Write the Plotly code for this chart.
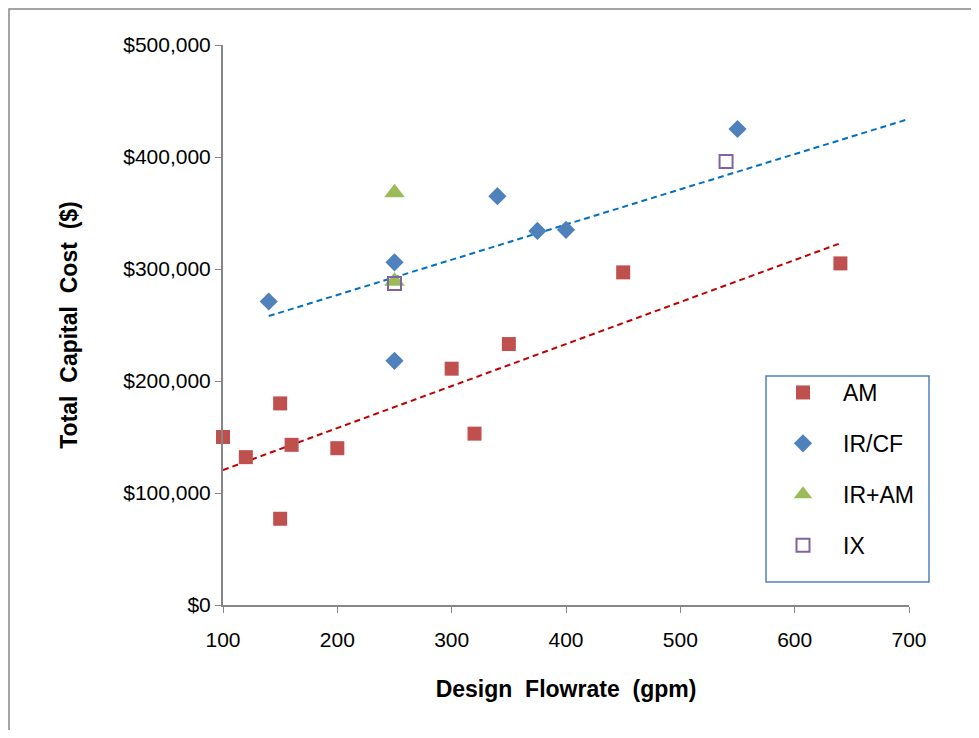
import plotly.graph_objects as go

# ---- data ----
am_x = [100, 120, 150, 150, 160, 200, 300, 320, 350, 450, 640]
am_y = [150000, 132000, 180000, 77000, 143000, 140000, 211000, 153000, 233000, 297000, 305000]

ircf_x = [140, 250, 250, 340, 375, 400, 550]
ircf_y = [271000, 306000, 218000, 365000, 334000, 335000, 425000]

iram_x = [250, 250]
iram_y = [368000, 289000]

ix_x = [250, 540]
ix_y = [287000, 396000]

trend_blue_x = [140, 700]
trend_blue_y = [258000, 434000]

trend_red_x = [100, 640]
trend_red_y = [120500, 323000]

x_ticks = [100, 200, 300, 400, 500, 600, 700]
y_ticks = [0, 100000, 200000, 300000, 400000, 500000]
y_tick_labels = ["${:,}".format(v) for v in y_ticks]

FONT = "Liberation Sans, Arial, sans-serif"

fig = go.Figure()

fig.add_trace(go.Scatter(x=trend_blue_x, y=trend_blue_y, mode="lines", showlegend=False,
                         line=dict(color="#0070C0", width=2, dash="6px,4px"), hoverinfo="skip"))
fig.add_trace(go.Scatter(x=trend_red_x, y=trend_red_y, mode="lines", showlegend=False,
                         line=dict(color="#C00000", width=2, dash="6px,4px"), hoverinfo="skip"))

fig.add_trace(go.Scatter(x=am_x, y=am_y, mode="markers", name="AM", legendgroup="a",
                         cliponaxis=False,
                         marker=dict(symbol="square", size=14, color="#C0504D")))
fig.add_trace(go.Scatter(x=ircf_x, y=ircf_y, mode="markers", name="IR/CF", legendgroup="b",
                         cliponaxis=False,
                         marker=dict(symbol="diamond", size=14, color="#4F81BD")))
fig.add_trace(go.Scatter(x=iram_x, y=iram_y, mode="markers", name="IR+AM", legendgroup="c",
                         cliponaxis=False,
                         marker=dict(symbol="triangle-up", size=18, color="#9BBB59")))
fig.add_trace(go.Scatter(x=ix_x, y=ix_y, mode="markers", name="IX", legendgroup="d",
                         cliponaxis=False,
                         marker=dict(symbol="square-open", size=13, color="#8064A2",
                                     line=dict(width=2, color="#8064A2"))))

OFF = 8  # page body margin
W, H = 979 - 2 * OFF, 738 - 2 * OFF
L, T = 223 - OFF, 45 - OFF
pw, ph = 686, 560
R, B = W - L - pw, H - T - ph

def px(xpage):
    return (xpage - OFF - L) / pw

def py(ypage):
    return (T + ph - (ypage - OFF)) / ph

fig.update_layout(
    width=W, height=H,
    margin=dict(l=L, r=R, t=T, b=B, pad=0),
    paper_bgcolor="white", plot_bgcolor="white",
    font=dict(family=FONT, size=21, color="black"),
    showlegend=True,
    legend=dict(x=px(763), y=py(371), xanchor="left", yanchor="top",
                bgcolor="rgba(0,0,0,0)", borderwidth=0,
                itemwidth=70, tracegroupgap=18, traceorder="grouped",
                font=dict(family=FONT, size=23, color="black")),
    xaxis=dict(range=[100, 700], tickvals=x_ticks, showgrid=False, zeroline=False,
               showline=True, linecolor="#868686", linewidth=2,
               ticks="outside", ticklen=6, tickwidth=1, tickcolor="#868686",
               ticklabelstandoff=9,
               tickfont=dict(family=FONT, size=21, color="black"),
               title=dict(text="<b>Design  Flowrate  (gpm)</b>", standoff=31,
                          font=dict(family=FONT, size=23, color="black"))),
    yaxis=dict(range=[0, 500000], tickvals=y_ticks, ticktext=y_tick_labels,
               showgrid=False, zeroline=False,
               showline=True, linecolor="#868686", linewidth=2,
               ticks="outside", ticklen=6, tickwidth=1, tickcolor="#868686",
               tickfont=dict(family=FONT, size=21, color="black"),
               title=dict(text="<b>Total  Capital  Cost  ($)</b>", standoff=39,
                          font=dict(family=FONT, size=23, color="black"))),
    shapes=[
        # legend frame
        dict(type="rect", xref="paper", yref="paper",
             x0=px(766), x1=px(929), y0=py(582), y1=py(376),
             line=dict(color="#4F81BD", width=1.5), fillcolor="rgba(0,0,0,0)", layer="above"),
        # outer chart border
        dict(type="rect", xref="paper", yref="paper",
             x0=px(9), x1=px(1000), y0=py(760), y1=py(9),
             line=dict(color="#868686", width=1.5), fillcolor="rgba(0,0,0,0)"),
    ],
)

fig.write_html("out.html")
